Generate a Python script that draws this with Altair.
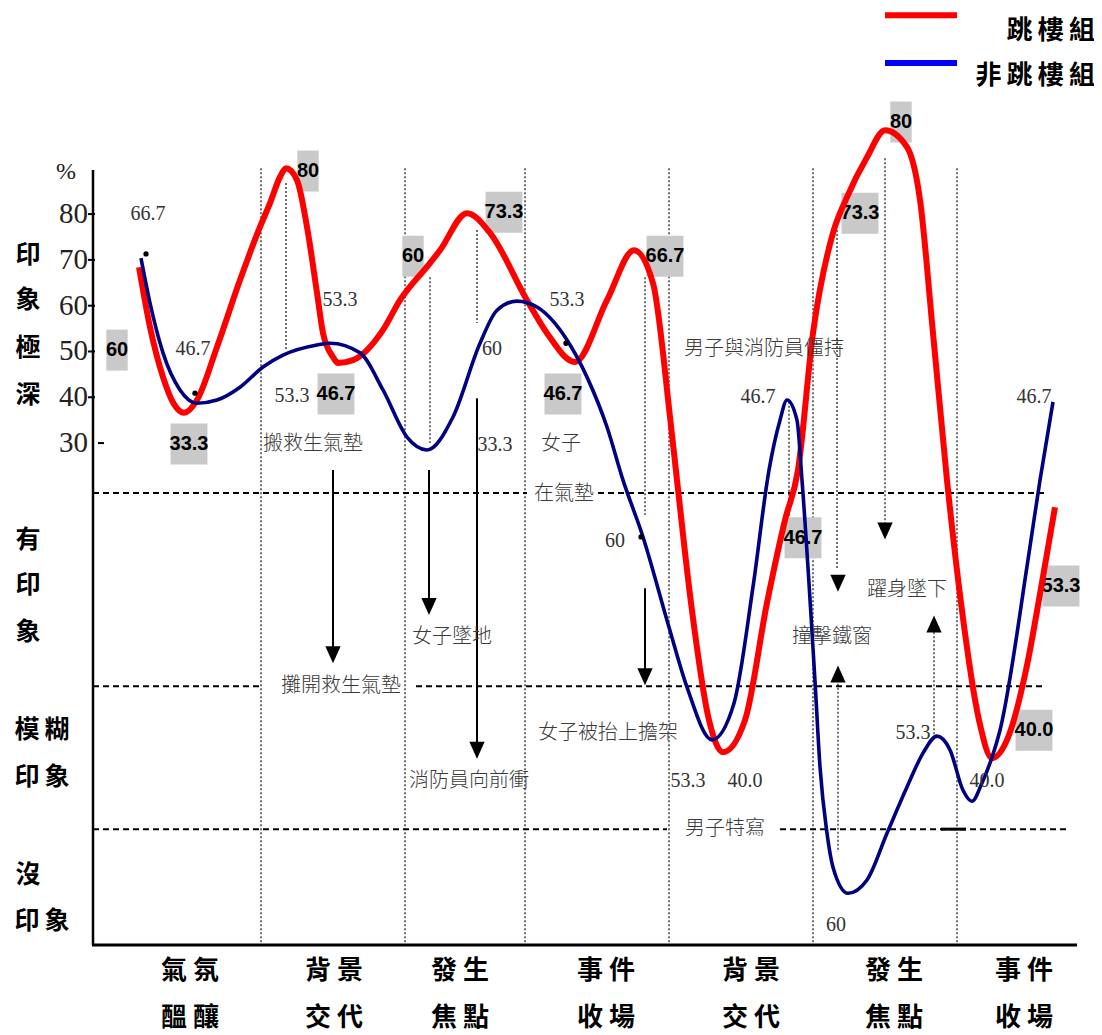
import altair as alt
import pandas as pd

# ---------------- data (timeline position t, impression level v in %) ----------------
red_t = [139,150,163,174,184,197,217,240,260,270,280,286,297,307,317,323,333,338,353,367,383,400,430,440,
         467,490,527,547,575,607,634,653,670,677,691,709,723,745,767,785,798,813,833,847,
         867,885,907,920,933,947,961,979,992,1007,1026,1041,1055]
red_v = [68.4,55.3,44.4,38.5,36.6,39.4,51.0,65.6,77.2,82.4,88.1,90.0,87.4,77.2,62.8,54.0,48.8,47.5,48.1,50.3,54.7,61.2,69.3,72.1,
         80.2,75.9,61.2,54.0,47.7,61.2,72.1,64.9,35.7,21.9,-4.9,-30.5,-37.5,-30.5,-4.9,13.2,24.1,54.0,75.9,83.7,
         92.4,98.3,94.6,83.1,54.0,21.9,-4.9,-30.5,-38.8,-34.8,-19.6,-1.7,16.0]

blue_t = [141,150,163,180,197,217,240,263,283,317,330,360,383,407,427,453,480,497,517,537,567,587,607,623,
          643,669,687,712,734,753,769,780,787,797,802,815,820,827,833,848,867,887,907,923,937,950,
          963,972,982,992,1000,1028,1040,1053]
blue_v = [70.4,60.6,49.7,41.6,38.7,39.4,42.2,46.6,49.2,51.4,51.8,49.7,41.6,31.3,28.5,35.7,51.8,59.0,61.0,59.7,52.5,44.4,33.5,21.9,
          9.5,-10.2,-23.3,-34.8,-26.8,-1.4,24.1,35.0,39.4,35.0,21.9,-22.0,-40.7,-55.2,-62.6,-68.3,-65.4,-55.2,-45.1,-37.7,-34.0,-37.0,
          -45.8,-48.2,-44.2,-38.6,-32.7,4.5,21.9,39.0]

# highlighted (boxed) values
box_text = ["60","33.3","80","46.7","60","73.3","46.7","66.7","80","73.3","46.7","53.3","40.0"]
box_t = [117,189,308,336,413,504,563,665,901,860,803,1061,1034]
box_v = [50.3,29.8,89.4,40.7,70.8,80.4,40.7,70.8,100.1,80.2,9.3,-1.2,-32.7]

# plain values
val_text = ["66.7","46.7","53.3","53.3","60","33.3","53.3","60","46.7","53.3","40.0","53.3","40.0","46.7","60"]
val_t = [148,193,340,292,492,495,567,615,758,688,745,913,987,1034,836]
val_v = [80.0,50.5,61.2,40.3,50.5,29.6,61.2,8.6,40.0,-43.8,-43.8,-33.3,-43.8,40.0,-75.2]

dot_t = [146,195,566,641]
dot_v = [71.3,40.9,51.8,9.5]

# scene annotations
ann_text = ["搬救生氣墊","女子","在氣墊","男子與消防員僵持","攤開救生氣墊","女子墜地",
            "女子被抬上擔架","消防員向前衝","撞擊鐵窗","躍身墜下","男子特寫"]
ann_t = [313,561,564,764,341,452,608,469,832,907,725]
ann_v = [29.8,29.8,18.9,50.5,-23.1,-12.4,-33.3,-43.8,-12.4,-2.1,-54.3]

# y tick labels
ytick_vals = [30,40,50,60,70,80]

# left level labels
lvl_text = ["印","象","極","深","有","印","象","模\u2009糊","印\u2009象","沒","印\u2009象"]
lvl_t = [28,28,28,28,28,28,28,42,42,28,42]
lvl_v = [71.0,61.2,50.7,40.5,8.8,-1.0,-11.3,-32.7,-42.9,-64.3,-74.4]

# bottom stage categories
cat_row1 = ["氣 氛","背 景","發 生","事 件","背 景","發 生","事 件"]
cat_row2 = ["醞 釀","交 代","焦 點","收 場","交 代","焦 點","收 場"]
cat_t = [190,334,460,606,751,894,1024]

# structure lines
sep_t = [261,405,525,669,813,957]
lead_t = [286,430,477,645,789,837,838,885,934]
lead_v1 = [86.8,66.2,76.5,66.2,39.0,76.5,-21.7,92.2,-11.3]
lead_v2 = [50.3,30.0,56.2,14.3,13.8,2.3,-59.3,12.1,-34.8]
dash_v = [19.1,19.1,-23.1,-23.1,-54.3,-54.3]
dash_t1 = [93,598,93,416,93,780]
dash_t2 = [527,1045,260,1045,667,1068]
shaft_t = [333,429,477,645]
shaft_v1 = [24.1,24.1,39.8,-1.7]
shaft_v2 = [-17.4,-6.9,-38.6,-22.4]
down_t = [333,429,477,645,838,885]
down_v = [-16.2,-5.7,-37.1,-21.0,-0.6,10.8]
up_t = [838,934]
up_v = [-20.4,-9.5]

legend_names = ["跳\u2009樓\u2009組","非\u2009跳\u2009樓\u2009組"]
legend_colors = ["#ff0000","#0000ff"]
legend_line_v = [123.4,113.0]
legend_text_v = [120.0,110.1]

# ---------------- chart ----------------
xs = alt.Scale(domain=[8, 1094], nice=False, zero=False)
ys = alt.Scale(domain=[-99.25, 125.0], nice=False, zero=False)

def X(f="t"):
    return alt.X(f"{f}:Q", scale=xs, axis=None)

def Y(f="v"):
    return alt.Y(f"{f}:Q", scale=ys, axis=None)

serif = "Liberation Serif, Times New Roman, serif"
narrow = "Liberation Sans Narrow, Nimbus Sans Narrow, Arial Narrow, Liberation Sans, Arial, sans-serif"
cjk = "Noto Sans CJK TC, Noto Sans CJK SC, sans-serif"

layers = []

# full-height dotted separators
df = pd.DataFrame({"t": sep_t, "v": [90.0]*len(sep_t), "v2": [-79.6]*len(sep_t)})
layers.append(alt.Chart(df).mark_rule(color="#222", strokeWidth=1.3, strokeDash=[2, 2]).encode(
    x=X(), y=Y(), y2="v2:Q"))

# dotted leaders
df = pd.DataFrame({"t": lead_t, "v": lead_v1, "v2": lead_v2})
layers.append(alt.Chart(df).mark_rule(color="#222", strokeWidth=1.3, strokeDash=[2, 2]).encode(
    x=X(), y=Y(), y2="v2:Q"))

# dashed level boundaries
df = pd.DataFrame({"t": dash_t1, "t2": dash_t2, "v": dash_v})
layers.append(alt.Chart(df).mark_rule(color="#000", strokeWidth=2, strokeDash=[6, 4]).encode(
    x=X(), x2="t2:Q", y=Y()))
df = pd.DataFrame({"t": [941], "t2": [966], "v": [-54.3]})
layers.append(alt.Chart(df).mark_rule(color="#000", strokeWidth=3).encode(x=X(), x2="t2:Q", y=Y()))

# axes lines
df = pd.DataFrame({"t": [93], "v": [89.6], "v2": [-79.6]})
layers.append(alt.Chart(df).mark_rule(color="#000", strokeWidth=2.5).encode(x=X(), y=Y(), y2="v2:Q"))
df = pd.DataFrame({"t": [92], "t2": [1077], "v": [-79.6]})
layers.append(alt.Chart(df).mark_rule(color="#000", strokeWidth=3).encode(x=X(), x2="t2:Q", y=Y()))

# ticks
df = pd.DataFrame({"t": [98,88,88,88,88,88], "t2": [104,95,95,95,95,95], "v": ytick_vals})
layers.append(alt.Chart(df).mark_rule(color="#000", strokeWidth=2).encode(x=X(), x2="t2:Q", y=Y()))

# solid arrow shafts
df = pd.DataFrame({"t": shaft_t, "v": shaft_v1, "v2": shaft_v2})
layers.append(alt.Chart(df).mark_rule(color="#000", strokeWidth=2).encode(x=X(), y=Y(), y2="v2:Q"))

# arrowheads
df = pd.DataFrame({"t": down_t, "v": down_v})
layers.append(alt.Chart(df).mark_point(shape="M-0.9,-1L0.9,-1L0,1Z", filled=True, color="#000",
                                       size=289, opacity=1, strokeWidth=0).encode(x=X(), y=Y()))
df = pd.DataFrame({"t": up_t, "v": up_v})
layers.append(alt.Chart(df).mark_point(shape="M-0.9,1L0.9,1L0,-1Z", filled=True, color="#000",
                                       size=289, opacity=1, strokeWidth=0).encode(x=X(), y=Y()))

# grey boxes behind highlighted values
df = pd.DataFrame({"t": box_t, "v": box_v, "label": box_text})
df["wide"] = df["label"].str.len() > 2
layers.append(alt.Chart(df[df["wide"]]).mark_point(shape="M-0.9,-1H0.9V1H-0.9Z", filled=True,
                                                    color="#c9c9c9", size=1681, opacity=1, strokeWidth=0).encode(x=X(), y=Y()))
layers.append(alt.Chart(df[~df["wide"]]).mark_point(shape="M-0.52,-1H0.52V1H-0.52Z", filled=True,
                                                     color="#c9c9c9", size=1681, opacity=1, strokeWidth=0).encode(x=X(), y=Y()))
layers.append(alt.Chart(df).mark_text(font=narrow, fontSize=20, fontWeight="bold", color="#000",
                                      baseline="middle").encode(x=X(), y=Y(), text="label:N"))

# curves
df = pd.DataFrame({"t": red_t, "v": red_v})
layers.append(alt.Chart(df).mark_line(interpolate="monotone", color="#ff0000", strokeWidth=6,
                                      strokeCap="butt").encode(x=X(), y=Y()))
df = pd.DataFrame({"t": blue_t, "v": blue_v})
layers.append(alt.Chart(df).mark_line(interpolate="monotone", color="#000080", strokeWidth=3.6,
                                      strokeCap="butt").encode(x=X(), y=Y()))

# dots
df = pd.DataFrame({"t": dot_t, "v": dot_v})
layers.append(alt.Chart(df).mark_circle(color="#000", size=28, opacity=1).encode(x=X(), y=Y()))

# plain values
df = pd.DataFrame({"t": val_t, "v": val_v, "label": val_text})
layers.append(alt.Chart(df).mark_text(font=serif, fontSize=20, color="#333",
                                      baseline="middle").encode(x=X(), y=Y(), text="label:N"))

# annotations
df = pd.DataFrame({"t": ann_t, "v": ann_v, "label": ann_text})
layers.append(alt.Chart(df).mark_text(font=cjk, fontSize=20, fontWeight=300, color="#3a3a3a",
                                      baseline="middle").encode(x=X(), y=Y(), text="label:N"))

# y tick labels and %
df = pd.DataFrame({"t": [88]*len(ytick_vals), "v": ytick_vals, "label": [str(v) for v in ytick_vals]})
layers.append(alt.Chart(df).mark_text(font=serif, fontSize=29, color="#222", align="right",
                                      baseline="middle").encode(x=X(), y=Y(), text="label:N"))
df = pd.DataFrame({"t": [66], "v": [89.2], "label": ["%"]})
layers.append(alt.Chart(df).mark_text(font=serif, fontSize=24, color="#222",
                                      baseline="middle").encode(x=X(), y=Y(), text="label:N"))

# left level labels
df = pd.DataFrame({"t": lvl_t, "v": lvl_v, "label": lvl_text})
layers.append(alt.Chart(df).mark_text(font=cjk, fontSize=25, fontWeight="bold", color="#000",
                                      baseline="middle").encode(x=X(), y=Y(), text="label:N"))

# bottom categories
df = pd.DataFrame({"t": cat_t + cat_t, "v": [-85.3]*7 + [-95.5]*7, "label": cat_row1 + cat_row2})
layers.append(alt.Chart(df).mark_text(font=cjk, fontSize=26, fontWeight="bold", color="#000",
                                      baseline="middle").encode(x=X(), y=Y(), text="label:N"))

# legend
df = pd.DataFrame({"t": [885, 885], "t2": [957, 957], "v": legend_line_v, "name": legend_names,
                   "c": legend_colors})
layers.append(alt.Chart(df).mark_rule(strokeWidth=6).encode(
    x=X(), x2="t2:Q", y=Y(), color=alt.Color("c:N", scale=None)))
df = pd.DataFrame({"t": [1095, 1095], "v": legend_text_v, "label": legend_names})
layers.append(alt.Chart(df).mark_text(font=cjk, fontSize=26, fontWeight="bold", color="#000",
                                      align="right", baseline="middle").encode(x=X(), y=Y(), text="label:N"))

chart = alt.layer(*layers).properties(
    width=1086, height=1027, padding=0, autosize="none", background="white"
).configure_view(stroke=None)

chart.save("out.html", embed_options={"renderer": "svg", "actions": False})
